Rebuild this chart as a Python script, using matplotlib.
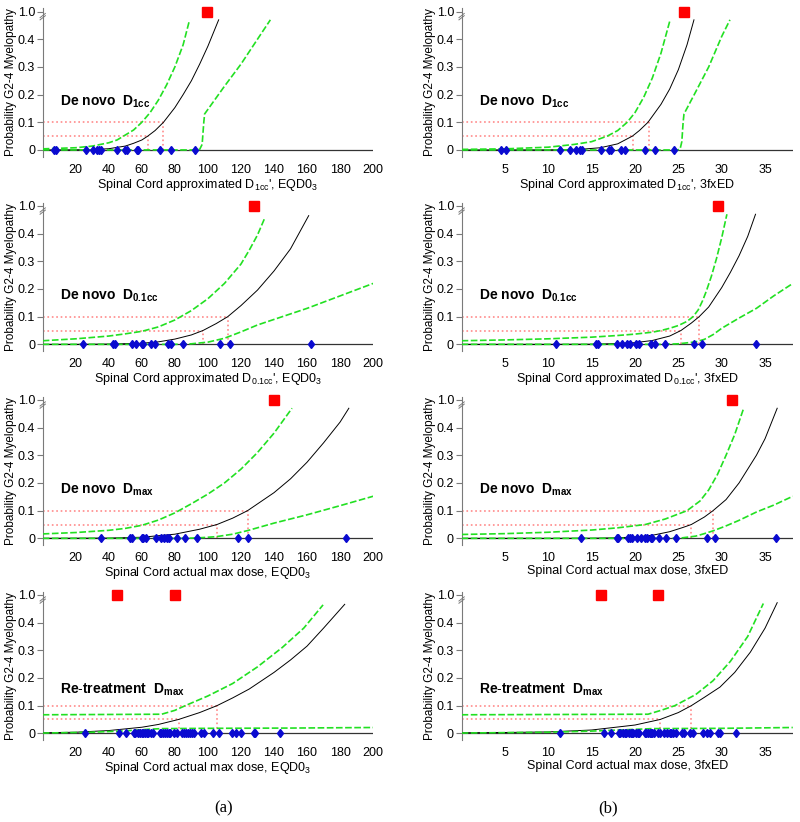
import numpy as np
import matplotlib
matplotlib.use('Agg')
import matplotlib.pyplot as plt
import matplotlib.transforms as mtransforms
from matplotlib import rcParams

rcParams['font.family'] = 'sans-serif'
rcParams['font.sans-serif'] = ['Liberation Sans', 'DejaVu Sans']
rcParams['mathtext.fontset'] = 'custom'
rcParams['mathtext.rm'] = 'Liberation Sans'
rcParams['mathtext.it'] = 'Liberation Sans'
rcParams['mathtext.bf'] = 'Liberation Sans:bold'

# ---------------- data ----------------
# y values are probabilities; the "1.0" row (complications) sits on the broken axis
# --- De novo D1cc, EQD0_3
d1cc_eqd_pts = [6.8, 8.1, 26.1, 30.3, 32.7, 34.3, 35.5, 45.2, 49.9, 50.9, 57.0, 57.9, 71.1, 77.9, 91.9]
d1cc_eqd_obs = [99.5]
d1cc_eqd_fit_x = [0, 20, 30, 40, 50, 55, 60, 63.6, 68, 73.1, 80, 85, 90, 95, 100, 106.5]
d1cc_eqd_fit_y = [0, 0.0005, 0.0015, 0.0045, 0.014, 0.024, 0.036, 0.05, 0.07, 0.1, 0.153, 0.2, 0.25, 0.31, 0.375, 0.47]
d1cc_eqd_hi_x = [0, 20, 30, 40, 45, 48.9, 55, 60, 65, 70, 75, 80, 85, 88.9]
d1cc_eqd_hi_y = [0.004, 0.008, 0.014, 0.026, 0.036, 0.05, 0.072, 0.1, 0.135, 0.18, 0.235, 0.3, 0.38, 0.47]
d1cc_eqd_lo_x = [0, 90, 95, 96.5, 97.5, 98, 110, 120, 130, 137.8]
d1cc_eqd_lo_y = [0, 0, 0.002, 0.02, 0.1, 0.13, 0.23, 0.31, 0.40, 0.47]
d1cc_eqd_d5, d1cc_eqd_d10 = 63.9, 73.1

# --- De novo D1cc, 3fxED
d1cc_3fx_pts = [4.5, 5.1, 11.4, 12.5, 13.2, 13.6, 13.9, 16.1, 17.0, 17.2, 18.4, 18.8, 21.1, 22.3, 24.5]
d1cc_3fx_obs = [25.7]
d1cc_3fx_fit_x = [0, 10, 14, 16, 18, 19.7, 20.5, 21.5, 23, 24, 25, 26, 26.8]
d1cc_3fx_fit_y = [0, 0.0003, 0.003, 0.008, 0.022, 0.05, 0.07, 0.1, 0.165, 0.22, 0.29, 0.38, 0.47]
d1cc_3fx_hi_x = [0, 5, 10, 13, 15, 16.8, 18, 19.1, 20, 21, 22, 23, 24.05]
d1cc_3fx_hi_y = [0.002, 0.004, 0.01, 0.02, 0.03, 0.05, 0.07, 0.1, 0.135, 0.19, 0.26, 0.35, 0.47]
d1cc_3fx_lo_x = [0, 24.9, 25.2, 25.4, 25.55, 25.65, 27, 28.5, 30, 30.95]
d1cc_3fx_lo_y = [0, 0, 0.003, 0.03, 0.1, 0.13, 0.21, 0.3, 0.41, 0.47]
d1cc_3fx_d5, d1cc_3fx_d10 = 19.8, 21.6

# --- De novo D0.1cc, EQD0_3
d01cc_eqd_pts = [24.4, 42.4, 43.6, 53.9, 56.6, 59.8, 61.0, 65.5, 67.7, 75.6, 77.6, 85.1, 107.1, 113.3, 162.2]
d01cc_eqd_obs = [127.7]
d01cc_eqd_fit_x = [0, 20, 40, 60, 70, 80, 90, 97, 105, 112, 120, 130, 140, 150, 161]
d01cc_eqd_fit_y = [0, 0, 0.001, 0.004, 0.009, 0.019, 0.034, 0.05, 0.075, 0.1, 0.14, 0.196, 0.265, 0.345, 0.465]
d01cc_eqd_hi_x = [0, 20, 40, 50, 60, 70, 80, 90, 100, 110, 120, 125, 130, 134.3]
d01cc_eqd_hi_y = [0.013, 0.02, 0.03, 0.038, 0.047, 0.063, 0.088, 0.122, 0.165, 0.22, 0.29, 0.34, 0.395, 0.455]
d01cc_eqd_lo_x = [0, 80, 90, 100, 110, 120, 130, 140, 160, 180, 200]
d01cc_eqd_lo_y = [0, 0, 0.002, 0.008, 0.022, 0.045, 0.07, 0.09, 0.13, 0.175, 0.22]
d01cc_eqd_d5, d01cc_eqd_d10 = 97.0, 111.9

# --- De novo D0.1cc, 3fxED
d01cc_3fx_pts = [10.9, 15.5, 15.7, 17.9, 18.5, 19.1, 19.4, 20.1, 20.5, 21.8, 22.3, 23.5, 26.8, 27.7, 33.9]
d01cc_3fx_obs = [29.6]
d01cc_3fx_fit_x = [0, 10, 15, 18, 20, 22, 24, 25.3, 26.5, 27.4, 28.5, 30, 31, 32, 33, 33.9]
d01cc_3fx_fit_y = [0, 0, 0.0005, 0.003, 0.006, 0.014, 0.03, 0.05, 0.077, 0.1, 0.135, 0.205, 0.26, 0.32, 0.39, 0.47]
d01cc_3fx_hi_x = [0, 5, 10, 15, 18, 20, 22, 23, 24, 25, 26, 26.7, 27.3, 27.8, 28.2, 28.8, 29.4, 30, 30.6]
d01cc_3fx_hi_y = [0.013, 0.016, 0.02, 0.026, 0.032, 0.037, 0.044, 0.05, 0.058, 0.068, 0.083, 0.1, 0.125,
                  0.158, 0.19, 0.245, 0.31, 0.385, 0.47]
d01cc_3fx_lo_x = [0, 23, 25, 27, 28, 29, 30, 32, 34, 36, 38.2]
d01cc_3fx_lo_y = [0, 0, 0.002, 0.009, 0.018, 0.035, 0.058, 0.095, 0.13, 0.175, 0.22]
d01cc_3fx_d5, d01cc_3fx_d10 = 25.3, 27.4

# --- De novo Dmax, EQD0_3
dmax_eqd_pts = [35.2, 52.9, 54.1, 60.0, 61.0, 62.4, 68.5, 71.9, 73.7, 75.2, 76.4, 81.2, 85.9, 93.1, 118.0, 124.2, 183.4]
dmax_eqd_obs = [139.8]
dmax_eqd_fit_x = [0, 40, 60, 80, 95, 105.5, 115, 124, 140, 150, 160, 170, 180, 185.3]
dmax_eqd_fit_y = [0, 0.001, 0.004, 0.015, 0.033, 0.05, 0.073, 0.1, 0.165, 0.215, 0.275, 0.345, 0.42, 0.47]
dmax_eqd_hi_x = [0, 20, 40, 50, 60, 70, 80, 90, 100, 110, 120, 130, 140, 150.9]
dmax_eqd_hi_y = [0.016, 0.021, 0.029, 0.036, 0.047, 0.066, 0.092, 0.125, 0.16, 0.2, 0.25, 0.31, 0.38, 0.47]
dmax_eqd_lo_x = [0, 85, 95, 105, 115, 124, 140, 160, 180, 200]
dmax_eqd_lo_y = [0, 0, 0.002, 0.006, 0.015, 0.028, 0.055, 0.085, 0.118, 0.152]
dmax_eqd_d5, dmax_eqd_d10 = 105.5, 124.0

# --- De novo Dmax, 3fxED
dmax_3fx_pts = [13.8, 17.9, 18.0, 19.2, 19.4, 19.6, 20.2, 20.7, 21.1, 21.4, 21.8, 22.0, 22.8, 23.6, 24.7, 28.3, 29.2, 36.3]
dmax_3fx_obs = [31.2]
dmax_3fx_fit_x = [0, 10, 15, 18, 20, 22, 24, 25.5, 26.5, 28, 29, 30.5, 32, 33, 34, 35, 36.4]
dmax_3fx_fit_y = [0, 0, 0.0005, 0.002, 0.005, 0.011, 0.024, 0.039, 0.05, 0.077, 0.1, 0.14, 0.2, 0.25, 0.3, 0.36, 0.47]
dmax_3fx_hi_x = [0, 5, 10, 15, 18, 21.2, 23.5, 26, 27.5, 28.5, 29.5, 30.5, 31.5, 32.5]
dmax_3fx_hi_y = [0.014, 0.017, 0.022, 0.03, 0.038, 0.05, 0.07, 0.1, 0.135, 0.175, 0.23, 0.3, 0.375, 0.467]
dmax_3fx_lo_x = [0, 24, 25.5, 27, 28, 29, 30.5, 32, 34, 36, 38.2]
dmax_3fx_lo_y = [0, 0, 0.002, 0.008, 0.017, 0.027, 0.045, 0.065, 0.095, 0.12, 0.152]
dmax_3fx_d5, dmax_3fx_d10 = 26.5, 29.0

# --- Re-treatment Dmax, EQD0_3
retx_eqd_pts = [25.7, 46.3, 50.5, 55.0, 56.0, 57.4, 58.6, 60.0, 61.0, 62.2, 63.0, 64.0, 65.5, 66.7,
                70.7, 71.9, 73.1, 74.3, 75.2, 76.2, 77.2, 79.2, 81.2, 84.2, 85.5, 86.7, 87.7, 88.9,
                90.3, 91.7, 96.0, 97.4, 102.8, 106.5, 114.3, 117.2, 120.0, 127.7, 128.7, 143.8]
retx_eqd_obs = [44.8, 80.0]
retx_eqd_fit_x = [0, 20, 40, 60, 70, 82.2, 95, 105.5, 115, 125, 140, 150, 160, 170, 182.8]
retx_eqd_fit_y = [0.002, 0.004, 0.01, 0.022, 0.032, 0.05, 0.075, 0.1, 0.128, 0.16, 0.22, 0.265, 0.315, 0.38, 0.466]
retx_eqd_hi_x = [0, 72, 80, 86.3, 100, 115, 130, 145, 158, 169.7]
retx_eqd_hi_y = [0.067, 0.069, 0.083, 0.1, 0.135, 0.18, 0.24, 0.31, 0.38, 0.464]
retx_eqd_lo_x = [0, 30, 50, 65, 72, 100, 150, 200]
retx_eqd_lo_y = [0.001, 0.004, 0.009, 0.015, 0.017, 0.018, 0.019, 0.021]
retx_eqd_d5, retx_eqd_d10 = 82.2, 105.5

# --- Re-treatment Dmax, 3fxED
retx_3fx_pts = [11.3, 16.4, 17.2, 18.1, 18.3, 18.6, 18.8, 19.0, 19.3, 19.5, 19.6, 19.8, 20.1, 20.3,
                20.5, 21.1, 21.3, 21.5, 21.7, 21.8, 22.0, 22.2, 22.6, 22.9, 23.4, 23.7, 24.0, 24.2,
                24.4, 24.7, 25.4, 25.6, 26.3, 26.7, 27.9, 28.3, 28.7, 29.6, 29.8, 31.7]
retx_3fx_obs = [16.1, 22.6]
retx_3fx_fit_x = [0, 5, 10, 15, 20, 22.9, 25, 26.5, 28, 29.8, 31.5, 33.3, 35, 36.4]
retx_3fx_fit_y = [0.002, 0.003, 0.005, 0.012, 0.03, 0.05, 0.075, 0.1, 0.13, 0.167, 0.22, 0.293, 0.38, 0.472]
retx_3fx_hi_x = [0, 21.5, 23, 24.6, 27, 29, 31, 33, 34.8]
retx_3fx_hi_y = [0.067, 0.069, 0.083, 0.1, 0.14, 0.19, 0.26, 0.35, 0.469]
retx_3fx_lo_x = [0, 10, 15, 19, 22, 30, 38.2]
retx_3fx_lo_y = [0.001, 0.004, 0.008, 0.013, 0.017, 0.018, 0.021]
retx_3fx_d5, retx_3fx_d10 = 22.9, 26.5

left_ticks = [20, 40, 60, 80, 100, 120, 140, 160, 180, 200]
right_ticks = [5, 10, 15, 20, 25, 30, 35]
y_ticks = [0, 0.1, 0.2, 0.3, 0.4, 0.5]
y_ticklabels = ['0', '0.1', '0.2', '0.3', '0.4', '1.0']
TOP = 0.5  # where the "1.0" row is drawn on the broken axis

titles = [r'$\mathbf{De\ novo\ \ D_{1cc}}$', r'$\mathbf{De\ novo\ \ D_{0.1cc}}$',
          r'$\mathbf{De\ novo\ \ D_{max}}$', r'$\mathbf{Re\text{-}treatment\ \ D_{max}}$']
xlabels_left = [r"Spinal Cord approximated D$_{1cc}$', EQD0$_3$",
                r"Spinal Cord approximated D$_{0.1cc}$', EQD0$_3$",
                r"Spinal Cord actual max dose, EQD0$_3$",
                r"Spinal Cord actual max dose, EQD0$_3$"]
xlabels_right = [r"Spinal Cord approximated D$_{1cc}$', 3fxED",
                 r"Spinal Cord approximated D$_{0.1cc}$', 3fxED",
                 r"Spinal Cord actual max dose, 3fxED",
                 r"Spinal Cord actual max dose, 3fxED"]
title_y = [0.159, 0.16, 0.163, 0.144]

panels_left = [
    (d1cc_eqd_pts, d1cc_eqd_obs, d1cc_eqd_fit_x, d1cc_eqd_fit_y, d1cc_eqd_hi_x, d1cc_eqd_hi_y, d1cc_eqd_lo_x, d1cc_eqd_lo_y, d1cc_eqd_d5, d1cc_eqd_d10),
    (d01cc_eqd_pts, d01cc_eqd_obs, d01cc_eqd_fit_x, d01cc_eqd_fit_y, d01cc_eqd_hi_x, d01cc_eqd_hi_y, d01cc_eqd_lo_x, d01cc_eqd_lo_y, d01cc_eqd_d5, d01cc_eqd_d10),
    (dmax_eqd_pts, dmax_eqd_obs, dmax_eqd_fit_x, dmax_eqd_fit_y, dmax_eqd_hi_x, dmax_eqd_hi_y, dmax_eqd_lo_x, dmax_eqd_lo_y, dmax_eqd_d5, dmax_eqd_d10),
    (retx_eqd_pts, retx_eqd_obs, retx_eqd_fit_x, retx_eqd_fit_y, retx_eqd_hi_x, retx_eqd_hi_y, retx_eqd_lo_x, retx_eqd_lo_y, retx_eqd_d5, retx_eqd_d10),
]
panels_right = [
    (d1cc_3fx_pts, d1cc_3fx_obs, d1cc_3fx_fit_x, d1cc_3fx_fit_y, d1cc_3fx_hi_x, d1cc_3fx_hi_y, d1cc_3fx_lo_x, d1cc_3fx_lo_y, d1cc_3fx_d5, d1cc_3fx_d10),
    (d01cc_3fx_pts, d01cc_3fx_obs, d01cc_3fx_fit_x, d01cc_3fx_fit_y, d01cc_3fx_hi_x, d01cc_3fx_hi_y, d01cc_3fx_lo_x, d01cc_3fx_lo_y, d01cc_3fx_d5, d01cc_3fx_d10),
    (dmax_3fx_pts, dmax_3fx_obs, dmax_3fx_fit_x, dmax_3fx_fit_y, dmax_3fx_hi_x, dmax_3fx_hi_y, dmax_3fx_lo_x, dmax_3fx_lo_y, dmax_3fx_d5, dmax_3fx_d10),
    (retx_3fx_pts, retx_3fx_obs, retx_3fx_fit_x, retx_3fx_fit_y, retx_3fx_hi_x, retx_3fx_hi_y, retx_3fx_lo_x, retx_3fx_lo_y, retx_3fx_d5, retx_3fx_d10),
]

GREEN = '#22e022'
PINK = '#ff8a8a'
BLUE = '#0a0ad0'
SPINE = '#7a7a7a'


def draw_panel(ax, panel, xlim, xticks, title, ty, xlabel):
    pts, obs, fx, fy, hx, hy, lx, ly, d5, d10 = panel
    x0 = xlim[0]
    # 5% / 10% read-off lines
    ax.plot([x0, d10], [0.1, 0.1], color=PINK, ls=':', lw=1.2, zorder=1)
    ax.plot([x0, d5], [0.05, 0.05], color=PINK, ls=':', lw=1.2, zorder=1)
    ax.plot([d10, d10], [0, 0.1], color=PINK, ls=':', lw=1.2, zorder=1)
    ax.plot([d5, d5], [0, 0.05], color=PINK, ls=':', lw=1.2, zorder=1)
    ax.axhline(0, color='#333333', lw=0.9, zorder=2)
    ax.plot(fx, fy, color='black', lw=0.7, zorder=3)
    ax.plot(hx, hy, color=GREEN, ls=(0, (4, 1.5)), lw=1.2, zorder=3)
    ax.plot(lx, ly, color=GREEN, ls=(0, (4, 1.5)), lw=1.2, zorder=3)
    ax.plot(pts, np.zeros(len(pts)), ls='none', marker='d', ms=4.5, color=BLUE, zorder=4)
    ax.plot(obs, np.full(len(obs), TOP), ls='none', marker='s', ms=7, color='red',
            clip_on=False, zorder=4)

    ax.set_xlim(*xlim)
    ax.set_ylim(-0.024, 0.512)
    ax.set_xticks(xticks)
    ax.set_yticks(y_ticks)
    ax.set_yticklabels(y_ticklabels)
    for s in ['top', 'right', 'bottom']:
        ax.spines[s].set_visible(False)
    ax.spines['left'].set_color(SPINE)
    ax.spines['left'].set_linewidth(0.8)
    ax.tick_params(axis='x', length=0, pad=5, labelsize=9)
    ax.tick_params(axis='y', direction='out', length=4, width=0.8, color=SPINE, pad=1.5, labelsize=9)
    ax.set_ylabel('Probability G2-4 Myelopathy', fontsize=8.5, labelpad=0.5)
    ax.set_xlabel(xlabel, fontsize=9, labelpad=1)

    # broken-axis mark just below the "1.0" tick
    tr = mtransforms.blended_transform_factory(ax.transAxes, ax.transData)
    for dy in (0.0, 0.008):
        ax.plot([-0.008, 0.008], [0.47 + dy, 0.485 + dy], color=SPINE, lw=0.7,
                transform=tr, clip_on=False)

    ax.text(0.052, ty, title, transform=tr, fontsize=10, va='baseline', ha='left')


fig = plt.figure(figsize=(8, 8.22), dpi=100)
bottoms = [0.8095, 0.573, 0.337, 0.0998]
for i in range(4):
    axl = fig.add_axes([0.0534, bottoms[i], 0.413, 0.1805])
    draw_panel(axl, panels_left[i], (0, 200), left_ticks, titles[i], title_y[i], xlabels_left[i])
    axr = fig.add_axes([0.577, bottoms[i], 0.414, 0.1805])
    draw_panel(axr, panels_right[i], (0, 38.2), right_ticks, titles[i], title_y[i], xlabels_right[i])

fig.text(0.279, 0.017, '(a)', family='Liberation Serif', fontsize=12, ha='center', va='center')
fig.text(0.760, 0.017, '(b)', family='Liberation Serif', fontsize=12, ha='center', va='center')

fig.savefig('out.png', dpi=100)
